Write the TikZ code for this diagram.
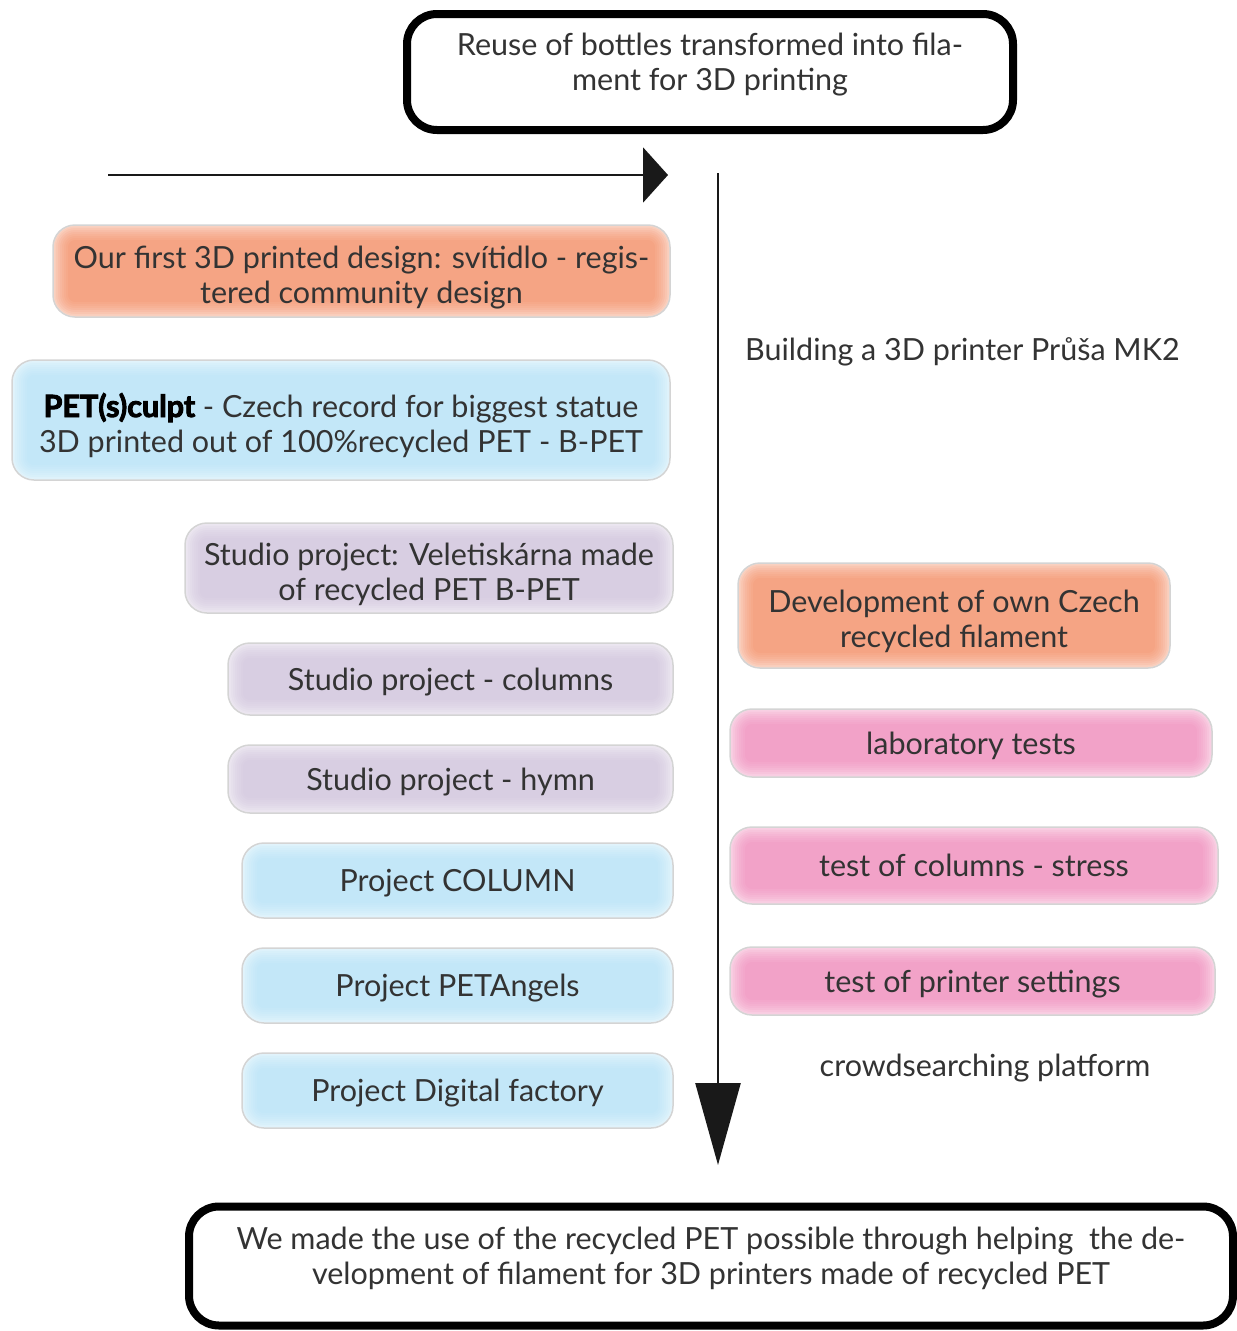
\documentclass[tikz,border=0pt]{standalone}
\usepackage{fontspec}
\setmainfont{Lato}[BoldFeatures={FakeBold=3}]
\usetikzlibrary{arrows.meta}
\definecolor{salmon}{HTML}{F5A484}
\definecolor{skyblue}{HTML}{C3E7F8}
\definecolor{lavender}{HTML}{D8CEE2}
\definecolor{rose}{HTML}{F2A2C8}
\definecolor{ink}{HTML}{333333}
\begin{document}
\begin{tikzpicture}[x=1pt, y=-1pt,
				every node/.style = {align=center, text=ink,
					font=\fontsize{30.5}{35}\selectfont},
				frame/.style = {draw=black, line width=8pt, rounded corners=30pt,
					fill=white, inner sep=0pt, text depth=20pt},
				bubble/.style = {draw=black!17, line width=1.5pt, rounded corners=22pt,
					fill=#1, inner sep=0pt, text height=22pt, text depth=0pt,
					path picture={
						\foreach \w/\p in {30/95,26/90,22/85,18/79,14/72,10/64,6/55,3/47}
							\draw[#1!\p, line width=\w pt, rounded corners=22pt] (path picture bounding box.south west) rectangle (path picture bounding box.north east);
					}},
				twolines/.style = {text height=64pt},
				timeline/.style = {line width=2.5pt, draw=black!90}]
				\useasboundingbox (0,0) rectangle (1237,1331);
				\node[frame, minimum width=606pt, minimum height=116pt] (reuse) at (710,72)
					{Reuse of bottles transformed into fila-\\ment for 3D printing};
				\node[frame, minimum width=1044pt, minimum height=119pt] (result) at (711,1266)
					{We made the use of the recycled PET possible through helping\ \ the de-\\velopment of filament for 3D printers made of recycled PET};
				\coordinate (hstart) at (108,175);
				\coordinate (hend) at (668,175);
				\coordinate (vstart) at (718,173);
				\coordinate (vend) at (718,1165);
				\draw[timeline, -{Triangle[length=25pt, width=55pt]}] (hstart) -- (hend);
				\draw[timeline, -{Triangle[length=82pt, width=45pt]}] (vstart) -- (vend);
				\node[bubble=salmon, twolines, minimum width=617pt, minimum height=92pt] (svitidlo) at (361.5,271)
					{Our first 3D printed design: svítidlo - regis-\\tered community design};
				\node[bubble=skyblue, twolines, minimum width=658pt, minimum height=120pt] (petsculpt) at (341,420)
					{\textcolor{black}{\textbf{PET(s)culpt}} - Czech record for biggest statue\\3D printed out of 100\%recycled PET - B-PET};
				\node[bubble=lavender, twolines, minimum width=488pt, minimum height=90pt] (veletiskarna) at (429,568)
					{Studio project: Veletiskárna made\\of recycled PET B-PET};
				\node[bubble=lavender, minimum width=445pt, minimum height=72pt] (columns) at (450.5,679)
					{Studio project - columns};
				\node[bubble=lavender, minimum width=445pt, minimum height=68pt] (hymn) at (450.5,779)
					{Studio project - hymn};
				\node[bubble=skyblue, minimum width=431pt, minimum height=75pt] (column) at (457.5,880.5)
					{Project COLUMN};
				\node[bubble=skyblue, minimum width=431pt, minimum height=75pt] (petangels) at (457.5,985.5)
					{Project PETAngels};
				\node[bubble=skyblue, minimum width=431pt, minimum height=75pt] (factory) at (457.5,1090.5)
					{Project Digital factory};
				\node[anchor=west, inner sep=0pt] (printer) at (745,352) {Building a 3D printer Průša MK2};
				\node[bubble=salmon, twolines, minimum width=432pt, minimum height=105pt] (filament) at (954,615.5)
					{Development of own Czech\\recycled filament};
				\node[bubble=rose, minimum width=482pt, minimum height=68pt] (labtests) at (971,743)
					{laboratory tests};
				\node[bubble=rose, minimum width=488pt, minimum height=77pt] (stresstest) at (974,865.5)
					{test of columns - stress};
				\node[bubble=rose, minimum width=485pt, minimum height=68pt] (settings) at (972.5,981)
					{test of printer settings};
				\node[inner sep=0pt] (crowd) at (985,1068) {crowdsearching platform};
			\end{tikzpicture}
\end{document}
